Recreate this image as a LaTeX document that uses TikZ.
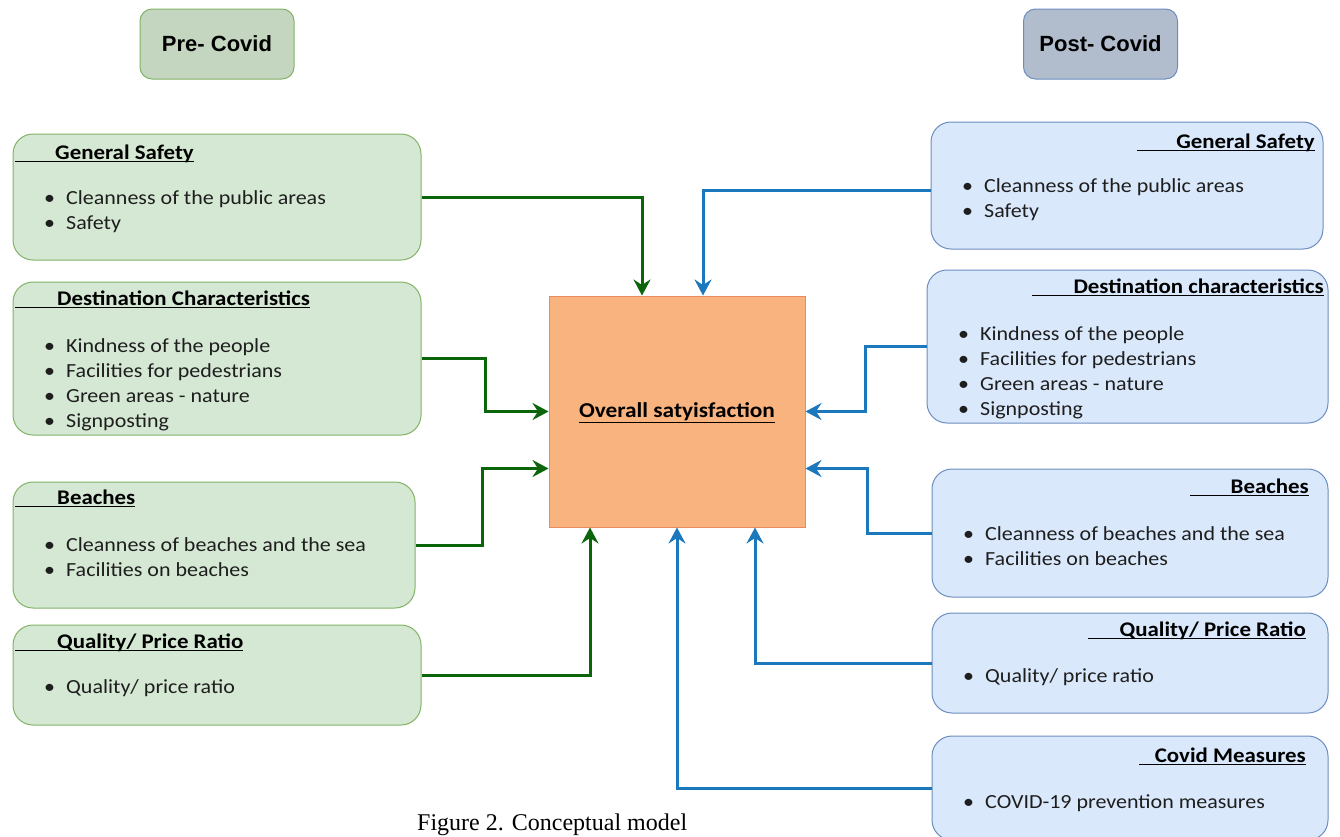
\documentclass[tikz,border=0pt]{standalone}
\usepackage{fontspec}
\setmainfont{Carlito}[FakeStretch=1.1]
\newfontfamily\arialf{Liberation Sans}
\newfontfamily\timesf{Liberation Serif}
\usetikzlibrary{arrows.meta}
\definecolor{gfill}{HTML}{D5E8D4}
\definecolor{gline}{HTML}{82B366}
\definecolor{bfill}{HTML}{DAE8FC}
\definecolor{bline}{HTML}{6C8EBF}
\definecolor{tgfill}{HTML}{C4D6BF}
\definecolor{tbfill}{HTML}{B1BDCD}
\definecolor{ofill}{HTML}{F9B37F}
\definecolor{oline}{HTML}{E98A62}
\definecolor{garr}{HTML}{0B650B}
\definecolor{barr}{HTML}{1C78BD}
\definecolor{btext}{HTML}{1E1E1E}
\newcommand\hulL[2]{\setbox0\hbox{\hspace*{#1}#2}\rlap{\rule[-3pt]{\wd0}{1.2pt}}\box0}
\newcommand\hulR[2]{\setbox0\hbox to #1{\hfill#2}\rlap{\rule[-3pt]{\wd0}{1.2pt}}\box0}
\newcommand\bl[1]{\makebox[22pt][l]{\textbullet}#1}
\begin{document}
\begin{tikzpicture}[x=1pt,y=-1pt,
  gbox/.style={draw=gline,fill=gfill,line width=1pt,rounded corners=20pt,inner sep=0pt},
  bbox/.style={draw=bline,fill=bfill,line width=1pt,rounded corners=20pt,inner sep=0pt},
  titlebox/.style={line width=1pt,rounded corners=12pt,inner sep=0pt,minimum width=154,minimum height=70,
    font=\arialf\fontsize{22}{26}\selectfont\bfseries},
  hd/.style={inner sep=0pt,font=\fontsize{20.8}{24}\selectfont\bfseries},
  lst/.style={anchor=base west,inner sep=0pt,text=btext,font=\fontsize{20}{25}\selectfont},
  garrow/.style={draw=garr,line width=3pt,-{Stealth[length=16pt,width=17pt,inset=5.5pt]}},
  barrow/.style={draw=barr,line width=3pt,-{Stealth[length=16pt,width=17pt,inset=5.5pt]}}
]
\useasboundingbox (0,0) rectangle (1340,836);
\clip (0,0) rectangle (1340,836);
\fill[white] (0,0) rectangle (1340,836);

% titles
\node[titlebox,draw=gline,fill=tgfill] (pre) at (217,44) {Pre- Covid};
\node[titlebox,draw=bline,fill=tbfill] (post) at (1100.5,44) {Post- Covid};

% central
\node[draw=oline,fill=ofill,line width=1pt,minimum width=256,minimum height=231,inner sep=0pt] (os) at (677,411.5) {};
\node[hd,anchor=base,font=\fontsize{21.2}{24}\selectfont\bfseries] (ost) at (677,417) {\underline{Overall satyisfaction}};

% left boxes
\node[gbox,minimum width=408,minimum height=126] (lgs) at (217,197) {};
\node[hd,anchor=base west] (lgsh) at (15,159) {\hulL{40pt}{General Safety}};
\node[lst] (lgsl) at (44,204) {\begin{tabular}[t]{@{}l@{}}\bl{Cleanness of the public areas}\\\bl{Safety}\end{tabular}};

\node[gbox,minimum width=408,minimum height=153] (ldc) at (217,358.5) {};
\node[hd,anchor=base west] (ldch) at (15,305) {\hulL{42pt}{Destination Characteristics}};
\node[lst] (ldcl) at (44,352) {\begin{tabular}[t]{@{}l@{}}\bl{Kindness of the people}\\\bl{Facilities for pedestrians}\\\bl{Green areas - nature}\\\bl{Signposting}\end{tabular}};

\node[gbox,minimum width=402,minimum height=126] (lbe) at (214,545) {};
\node[hd,anchor=base west] (lbeh) at (15,504) {\hulL{42pt}{Beaches}};
\node[lst] (lbel) at (44,551) {\begin{tabular}[t]{@{}l@{}}\bl{Cleanness of beaches and the sea}\\\bl{Facilities on beaches}\end{tabular}};

\node[gbox,minimum width=408,minimum height=100] (lqp) at (217,675) {};
\node[hd,anchor=base west] (lqph) at (15,648) {\hulL{42pt}{Quality/ Price Ratio}};
\node[lst] (lqpl) at (44,693) {\begin{tabular}[t]{@{}l@{}}\bl{Quality/ price ratio}\end{tabular}};

% right boxes
\node[bbox,minimum width=392,minimum height=127] (rgs) at (1127,185.5) {};
\node[hd,anchor=base east] (rgsh) at (1315,148) {\hulR{178pt}{General Safety}};
\node[lst] (rgsl) at (962,192) {\begin{tabular}[t]{@{}l@{}}\bl{Cleanness of the public areas}\\\bl{Safety}\end{tabular}};

\node[bbox,minimum width=401,minimum height=153] (rdc) at (1127.5,346.5) {};
\node[hd,anchor=base east] (rdch) at (1324,293) {\hulR{292pt}{Destination characteristics}};
\node[lst] (rdcl) at (958,340) {\begin{tabular}[t]{@{}l@{}}\bl{Kindness of the people}\\\bl{Facilities for pedestrians}\\\bl{Green areas - nature}\\\bl{Signposting}\end{tabular}};

\node[bbox,minimum width=396,minimum height=128] (rbe) at (1130,533) {};
\node[hd,anchor=base east] (rbeh) at (1309,493) {\hulR{119pt}{Beaches}};
\node[lst] (rbel) at (963,540) {\begin{tabular}[t]{@{}l@{}}\bl{Cleanness of beaches and the sea}\\\bl{Facilities on beaches}\end{tabular}};

\node[bbox,minimum width=396,minimum height=100] (rqp) at (1130,663) {};
\node[hd,anchor=base east] (rqph) at (1306,636) {\hulR{218pt}{Quality/ Price Ratio}};
\node[lst] (rqpl) at (963,682) {\begin{tabular}[t]{@{}l@{}}\bl{Quality/ price ratio}\end{tabular}};

\node[bbox,minimum width=396,minimum height=104] (rcm) at (1130,788) {};
\node[hd,anchor=base east] (rcmh) at (1306,762) {\hulR{167pt}{Covid Measures}};
\node[lst] (rcml) at (963,808) {\begin{tabular}[t]{@{}l@{}}\bl{COVID-19 prevention measures}\end{tabular}};

% connectors
\draw[garrow] (lgs.east) -| ([xshift=-35pt]os.north);
\draw[garrow] (ldc.east) -- ++(64,0) |- (os.west);
\draw[garrow] (lbe.east) -- ++(67,0) |- ([yshift=-57pt]os.west);
\draw[garrow] (lqp.east) -| ([xshift=-87pt]os.south);

\draw[barrow] ([yshift=-5pt]rgs.west) -| ([xshift=26pt]os.north);
\draw[barrow] (rdc.west) -- ++(-61,0) |- (os.east);
\draw[barrow] (rbe.west) -- ++(-64,0) |- ([yshift=-57pt]os.east);
\draw[barrow] (rqp.west) -| ([xshift=78pt]os.south);
\draw[barrow] (rcm.west) -| (os.south);

% caption
\node[anchor=base west,inner sep=0pt,font=\timesf\fontsize{24}{28}\selectfont] (cap) at (417,830) {Figure 2. Conceptual model};
\end{tikzpicture}
\end{document}
